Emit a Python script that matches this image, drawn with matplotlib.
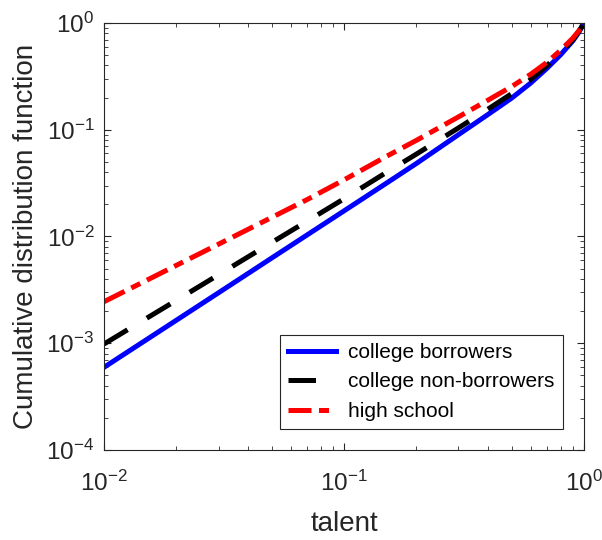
import numpy as np
import matplotlib.pyplot as plt

plt.rcParams['font.family'] = ['Liberation Sans', 'DejaVu Sans']
plt.rcParams['axes.unicode_minus'] = False

# talent grid and CDF values
talent = [0.01, 0.02, 0.03, 0.05, 0.07, 0.1, 0.15, 0.2, 0.3, 0.4, 0.5,
          0.6, 0.7, 0.8, 0.9, 0.95, 1.0]
cdf_borrowers = [5.95e-4, 1.64e-3, 2.97e-3, 6.29e-3, 0.0103, 0.01736,
                 0.0315, 0.0482, 0.0900, 0.1400, 0.198, 0.274, 0.375,
                 0.505, 0.682, 0.812, 1.0]
cdf_nonborrowers = [9.84e-4, 2.52e-3, 4.38e-3, 8.79e-3, 0.01387, 0.02254,
                    0.0398, 0.0590, 0.104, 0.157, 0.218, 0.296, 0.398,
                    0.528, 0.700, 0.825, 1.0]
cdf_highschool = [2.45e-3, 5.36e-3, 8.47e-3, 0.0151, 0.0221, 0.0339,
                  0.0562, 0.0794, 0.132, 0.1905, 0.254, 0.331, 0.427,
                  0.556, 0.724, 0.841, 1.0]
labels = ['college borrowers', 'college non-borrowers', 'high school']

fig = plt.figure(figsize=(6.02, 5.4), dpi=100)
ax = fig.add_axes([0.1728, 0.1667, 0.7972, 0.7907])

lw = 3.6
ax.loglog(talent, cdf_borrowers, color='#0000ff', lw=lw, label=labels[0])
ax.loglog(talent, cdf_nonborrowers, color='black', lw=lw, dashes=(5.5, 4.5),
          label=labels[1])
ax.loglog(talent, cdf_highschool, color='#ff0000', lw=lw,
          dashes=(4.6, 1.5, 2.0, 1.5), label=labels[2])

ax.set_xlim(1e-2, 1)
ax.set_ylim(1e-4, 1)

gray = '#262626'
for s in ax.spines.values():
    s.set_color(gray)
    s.set_linewidth(0.8)
ax.tick_params(which='both', direction='in', top=True, right=True,
               colors=gray, labelsize=17.5)
ax.tick_params(which='major', length=5)
ax.tick_params(which='minor', length=3)
ax.tick_params(axis='x', pad=15)
ax.tick_params(axis='y', pad=7)

ax.set_xlabel('talent', fontsize=20, color=gray, labelpad=11)
ax.set_ylabel('Cumulative distribution function', fontsize=20, color=gray,
              labelpad=5)

leg = ax.legend(loc='lower right', fontsize=15, fancybox=False,
                framealpha=1, edgecolor=gray, handlelength=2.3,
                borderaxespad=1.0, borderpad=0.4, labelspacing=0.5,
                handletextpad=0.6)
leg.get_frame().set_linewidth(0.8)

fig.savefig('out.png', dpi=100)
